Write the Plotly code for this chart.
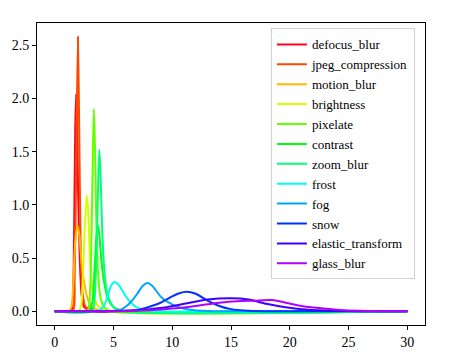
import plotly.graph_objects as go

# corruption names, in legend order
names = ['defocus_blur', 'jpeg_compression', 'motion_blur', 'brightness', 'pixelate',
         'contrast', 'zoom_blur', 'frost', 'fog', 'snow', 'elastic_transform', 'glass_blur']

colors = ['#ff0029', '#ff4700', '#ffb700', '#d6ff00', '#66ff00', '#00ff0b',
          '#00ff7a', '#00ffeb', '#00a3ff', '#0033ff', '#3d00ff', '#b000ff']

# density curves (x, y)
defocus_x = [0, 1.4, 1.55, 1.65, 1.75, 1.82, 1.9, 2.0, 2.15, 2.3, 2.5, 2.8, 3.05, 3.25, 3.6, 30]
defocus_y = [0, 0, 0.1, 0.7, 1.7, 2.04, 1.8, 1.1, 0.45, 0.15, 0.04, 0.02, 0.065, 0.01, 0, 0]

jpeg_x = [0, 1.55, 1.7, 1.85, 1.98, 2.1, 2.2, 2.35, 2.6, 3.0, 3.5, 30]
jpeg_y = [0, 0, 0.3, 1.5, 2.58, 1.6, 0.7, 0.2, 0.05, 0.01, 0, 0]

motion_x = [0, 1.2, 1.45, 1.6, 1.75, 1.93, 2.1, 2.3, 2.5, 2.7, 3.0, 3.5, 4.5, 30]
motion_y = [0, 0, 0.05, 0.3, 0.65, 0.81, 0.72, 0.45, 0.28, 0.16, 0.07, 0.02, 0, 0]

bright_x = [0, 2.0, 2.25, 2.4, 2.55, 2.72, 2.85, 3.0, 3.2, 3.4, 3.8, 4.5, 30]
bright_y = [0, 0, 0.05, 0.3, 0.75, 1.09, 0.95, 0.5, 0.22, 0.11, 0.04, 0, 0]

pixel_x = [0, 2.8, 3.0, 3.15, 3.27, 3.34, 3.42, 3.55, 3.7, 3.9, 4.2, 4.8, 30]
pixel_y = [0, 0, 0.15, 0.8, 1.6, 1.9, 1.6, 0.8, 0.35, 0.13, 0.04, 0, 0]

contrast_x = [0, 2.9, 3.2, 3.4, 3.55, 3.68, 3.8, 4.0, 4.2, 4.5, 5.0, 6.0, 30]
contrast_y = [0, 0, 0.08, 0.4, 0.7, 0.81, 0.72, 0.45, 0.28, 0.13, 0.04, 0, 0]

zoom_x = [0, 3.2, 3.4, 3.6, 3.72, 3.8, 3.9, 4.05, 4.25, 4.5, 5.0, 5.8, 30]
zoom_y = [0, 0, 0.12, 0.7, 1.3, 1.52, 1.3, 0.75, 0.35, 0.15, 0.04, 0, 0]

frost_x = [0, 3.0, 3.8, 4.2, 4.5, 4.8, 5.1, 5.5, 6.0, 6.5, 7.0, 8.0, 9.0, 30]
frost_y = [0, 0, 0.01, 0.05, 0.14, 0.24, 0.275, 0.24, 0.15, 0.08, 0.035, 0.008, 0, 0]

fog_x = [0, 4.5, 5.5, 6.0, 6.5, 7.0, 7.5, 7.9, 8.3, 9.0, 9.5, 10.5, 11.5, 13, 15, 30]
fog_y = [0, 0, 0.01, 0.04, 0.09, 0.16, 0.24, 0.265, 0.24, 0.14, 0.095, 0.04, 0.015, 0.003, 0, 0]

snow_x = [0, 5, 7, 8, 9, 10, 10.6, 11.2, 12, 13, 14, 15, 16.5, 19, 30]
snow_y = [0, 0, 0.01, 0.04, 0.08, 0.14, 0.17, 0.184, 0.165, 0.10, 0.05, 0.02, 0.005, 0, 0]

elastic_x = [0, 4, 7, 9, 11, 13, 15, 16.5, 18, 19.5, 21, 23, 25, 27, 30]
elastic_y = [0, 0, 0.01, 0.03, 0.07, 0.11, 0.122, 0.11, 0.07, 0.04, 0.02, 0.008, 0.002, 0, 0]

glass_x = [0, 5, 8, 10, 12, 14, 15.5, 17, 18.5, 19.5, 21, 22.5, 24, 26, 28, 30]
glass_y = [0, 0, 0.01, 0.025, 0.05, 0.08, 0.095, 0.1, 0.106, 0.085, 0.05, 0.03, 0.015, 0.004, 0, 0]

curves = [(defocus_x, defocus_y), (jpeg_x, jpeg_y), (motion_x, motion_y), (bright_x, bright_y),
          (pixel_x, pixel_y), (contrast_x, contrast_y), (zoom_x, zoom_y), (frost_x, frost_y),
          (fog_x, fog_y), (snow_x, snow_y), (elastic_x, elastic_y), (glass_x, glass_y)]

font = 'Liberation Serif'

fig = go.Figure()
for name, color, (xs, ys) in zip(names, colors, curves):
    fig.add_trace(go.Scatter(
        x=xs, y=ys, name=name, mode='lines',
        line=dict(color=color, width=2, shape='spline', smoothing=0.6),
    ))

axis = dict(
    showline=True, linecolor='black', linewidth=1, mirror=True,
    ticks='outside', ticklen=4, tickcolor='black',
    showgrid=False, zeroline=False, automargin=False,
    tickfont=dict(family=font, size=14, color='black'),
)

# the page body has an 8px margin, so the figure is 8px smaller than the window
fig.update_layout(
    width=442, height=350,
    margin=dict(l=29, r=25, t=15, b=33),
    font=dict(family=font, size=14, color='black'),
    paper_bgcolor='white', plot_bgcolor='white',
    xaxis=dict(range=[-1.5, 31.5], tickvals=[0, 5, 10, 15, 20, 25, 30], **axis),
    yaxis=dict(range=[-0.129, 2.709], tickvals=[0, 0.5, 1.0, 1.5, 2.0, 2.5],
               tickformat='.1f', **axis),
    legend=dict(
        x=0.974, y=0.982, xanchor='right', yanchor='top',
        bgcolor='white', bordercolor='#d0d0d0', borderwidth=1,
        font=dict(family=font, size=13, color='black'),
    ),
    showlegend=True,
)

fig.write_html("out.html")
